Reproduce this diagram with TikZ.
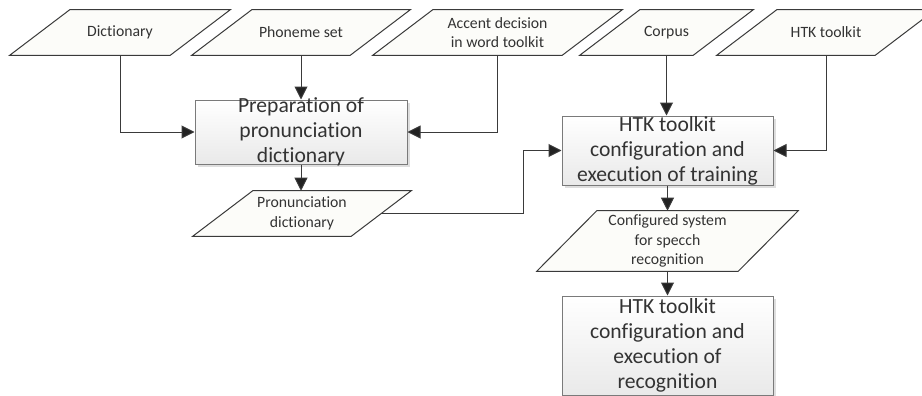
\documentclass[tikz,border=0pt]{standalone}
\usepackage{fontspec}
\setmainfont{Carlito}[RawFeature={-liga;-clig;-calt}]
\usetikzlibrary{arrows.meta,shadows,backgrounds}
\definecolor{lineC}{HTML}{3A3A3A}
\definecolor{tipC}{HTML}{222222}
\definecolor{txtC}{HTML}{333333}
\definecolor{paraFill}{HTML}{FCFCF9}
\definecolor{boxLine}{HTML}{7A7A7A}
\definecolor{boxBot}{HTML}{E9E9E9}
\newcommand\drawpara[1]{%
  \draw[parashape] ([xshift=-22.5pt]#1.south west) -- ([xshift=22.5pt]#1.north west)
    -- ([xshift=22.5pt]#1.north east) -- ([xshift=-22.5pt]#1.south east) -- cycle;}
\begin{document}
\begin{tikzpicture}[x=0.75pt,y=-0.75pt,
  smalltext/.style={font=\fontsize{11.8}{14.6}\selectfont, text=txtC, align=center},
  bigtext/.style={font=\fontsize{16.2}{18.8}\selectfont, text=txtC, align=center, inner sep=0pt},
  pnode/.style={smalltext, inner sep=0pt, minimum height=33.75pt, minimum width=#1},
  parashape/.style={draw=lineC, line width=0.75pt, fill=paraFill, line join=miter},
  procbox/.style={draw=boxLine, line width=0.75pt, top color=white, bottom color=boxBot,
    drop shadow={shadow xshift=2.2pt, shadow yshift=-2.2pt, fill=black!13, opacity=1},
    inner sep=0pt, minimum width=158.25pt},
  conn/.style={draw=lineC, line width=0.75pt, -{Triangle[length=9.75pt,width=9.75pt,fill=tipC]}}]
\useasboundingbox (0,0) rectangle (922,396);

% input parallelograms
\node[pnode=120pt] (dict) at (120,32.5) {Dictionary};
\node[pnode=118.5pt] (phon) at (301,32.5) {Phoneme set};
\node[pnode=141.75pt] (acc) at (497.5,32.5) {Accent decision\\in word toolkit};
\node[pnode=84.75pt] (corp) at (666.5,32.5) {Corpus};
\node[pnode=118.5pt] (htk) at (826,32.5) {HTK toolkit};
\node[pnode=118.5pt] (pd) at (302,213.5) {Pronunciation\\dictionary};
\node[pnode=150.75pt, minimum height=45pt] (conf) at (667.5,241) {Configured system\\for specch\\recognition};

% process boxes
\node[procbox, minimum width=159pt, minimum height=48pt,
  label={[bigtext]center:{Preparation of\\pronunciation\\dictionary}}] (prep) at (301,132) {};
\node[procbox, minimum height=51.75pt,
  label={[bigtext]center:{HTK toolkit\\configuration and\\execution of training}}] (train) at (667.5,150.5) {};
\node[procbox, minimum height=74.25pt,
  label={[bigtext]center:{HTK toolkit\\configuration and\\execution of\\recognition}}] (rec) at (667.5,345.5) {};

\begin{pgfonlayer}{background}
\fill[white] (0,0) rectangle (922,396);
\drawpara{dict}\drawpara{phon}\drawpara{acc}\drawpara{corp}\drawpara{htk}\drawpara{pd}\drawpara{conf}
\end{pgfonlayer}

% connectors
\draw[conn] (dict.south) |- (prep.west);
\draw[conn] (phon.south) -- (prep.north);
\draw[conn] (acc.south) |- (prep.east);
\draw[conn] (prep.south) -- (prep.south |- pd.north);
\draw[conn] (corp.south) -- (corp.south |- train.north);
\draw[conn] (htk.south) |- (train.east);
\draw[conn] (pd.east) -- ++(142.5,0) |- (train.west);
\draw[conn] (train.south) -- (conf.north);
\draw[conn] (conf.south) -- (rec.north);
\end{tikzpicture}
\end{document}
